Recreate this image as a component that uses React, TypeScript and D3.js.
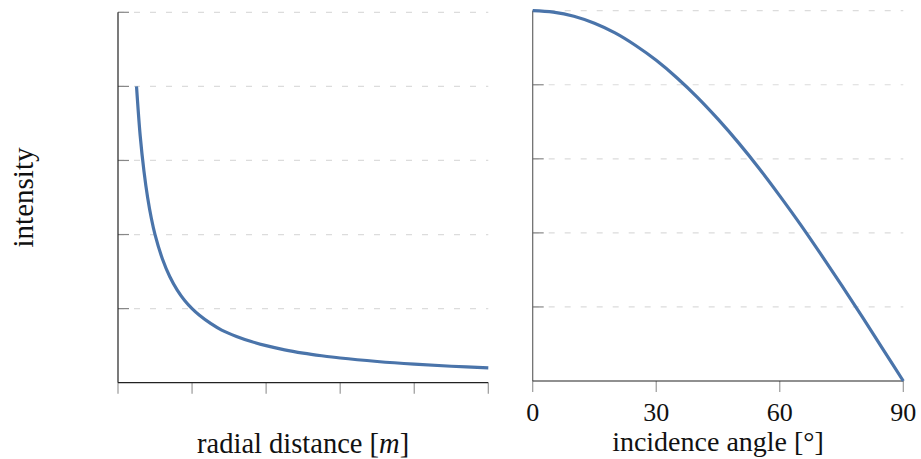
import React from "react";
import * as d3 from "d3";

// Left panel: intensity vs radial distance
const radialDistance = [0.25, 0.3, 0.35, 0.4, 0.45, 0.5, 0.6, 0.7, 0.8, 0.9, 1.0, 1.1, 1.25, 1.4, 1.6, 1.8, 2.0, 2.25, 2.5, 2.75, 3.0, 3.5, 4.0, 4.5, 5.0];
const radialIntensity = [4.0, 3.33, 2.86, 2.5, 2.22, 2.0, 1.67, 1.43, 1.25, 1.11, 1.0, 0.91, 0.8, 0.71, 0.625, 0.556, 0.5, 0.444, 0.4, 0.364, 0.333, 0.286, 0.25, 0.222, 0.2];
const radialTicks = [0, 1, 2, 3, 4, 5];
const radialGrid = [0, 1, 2, 3, 4, 5];

// Right panel: intensity vs incidence angle
const incidenceAngle = [0, 5, 10, 15, 20, 25, 30, 35, 40, 45, 50, 55, 60, 65, 70, 75, 80, 85, 90];
const angleIntensity = [1.0, 0.996, 0.985, 0.966, 0.94, 0.906, 0.866, 0.819, 0.766, 0.707, 0.643, 0.574, 0.5, 0.423, 0.342, 0.259, 0.174, 0.087, 0.0];
const angleTicks = [0, 30, 60, 90];
const angleGrid = [0, 0.2, 0.4, 0.6, 0.8, 1.0];

const LINE = "#4a74aa";
const FONT = "'Liberation Serif', 'DejaVu Serif', serif";

export default function App() {
  // left scales
  const xL = d3.scaleLinear().domain([0, 5]).range([118, 488.3]);
  const yL = d3.scaleLinear().domain([0, 5]).range([382.7, 12.3]);
  // right scales
  const xR = d3.scaleLinear().domain([0, 90]).range([532.7, 903.3]);
  const yR = d3.scaleLinear().domain([0, 1]).range([381, 10.7]);

  const lineL = d3
    .line<number>()
    .x((_, i) => xL(radialDistance[i]))
    .y((d) => yL(d))
    .curve(d3.curveCatmullRom.alpha(0.5));
  const lineR = d3
    .line<number>()
    .x((_, i) => xR(incidenceAngle[i]))
    .y((d) => yR(d))
    .curve(d3.curveMonotoneX);

  return (
    <svg
      width={921}
      height={459}
      style={{ position: "absolute", left: 0, top: 0, background: "#fff" }}
      fontFamily={FONT}
    >
      {/* ---------- Left panel ---------- */}
      {radialGrid.slice(1).map((g) => (
        <line
          key={"gl" + g}
          x1={xL(0)}
          x2={xL(5)}
          y1={yL(g)}
          y2={yL(g)}
          stroke="#dcdcdc"
          strokeWidth={1.2}
          strokeDasharray="6 10"
        />
      ))}
      {radialGrid.slice(1).map((g) => (
        <line key={"tl" + g} x1={xL(0)} x2={xL(0) + 11} y1={yL(g)} y2={yL(g)} stroke="#888" strokeWidth={1.2} />
      ))}
      {radialTicks.map((t) => (
        <line key={"xl" + t} x1={xL(t)} x2={xL(t)} y1={yL(0)} y2={yL(0) + 11} stroke="#999" strokeWidth={1.2} />
      ))}
      <line x1={xL(0)} x2={xL(0)} y1={yL(5)} y2={yL(0)} stroke="#222" strokeWidth={1.2} />
      <line x1={xL(0)} x2={xL(5)} y1={yL(0)} y2={yL(0)} stroke="#222" strokeWidth={1.2} />
      <path d={lineL(radialIntensity) || ""} fill="none" stroke={LINE} strokeWidth={3.2} />
      <text x={(xL(0) + xL(5)) / 2} y={452.5} fontSize={28.5} textAnchor="middle" fill="#111">
        radial distance [<tspan fontStyle="italic">m</tspan>]
      </text>
      <text
        transform={`translate(33,${(yL(0) + yL(5)) / 2}) rotate(-90)`}
        fontSize={29}
        textAnchor="middle"
        fill="#111"
      >
        intensity
      </text>

      {/* ---------- Right panel ---------- */}
      {angleGrid.slice(1).map((g) => (
        <line
          key={"gr" + g}
          x1={xR(0)}
          x2={xR(90)}
          y1={yR(g)}
          y2={yR(g)}
          stroke="#dcdcdc"
          strokeWidth={1.2}
          strokeDasharray="6 10"
        />
      ))}
      {angleGrid.slice(1).map((g) => (
        <line key={"tr" + g} x1={xR(0)} x2={xR(0) + 11} y1={yR(g)} y2={yR(g)} stroke="#888" strokeWidth={1.2} />
      ))}
      {angleTicks.map((t) => (
        <g key={"xr" + t}>
          <line x1={xR(t)} x2={xR(t)} y1={yR(0)} y2={yR(0) + 11} stroke="#999" strokeWidth={1.2} />
          <text x={xR(t)} y={420.5} fontSize={26} textAnchor="middle" fill="#111">
            {t}
          </text>
        </g>
      ))}
      <line x1={xR(0)} x2={xR(0)} y1={yR(1)} y2={yR(0)} stroke="#666" strokeWidth={1.2} />
      <line x1={xR(0)} x2={xR(90)} y1={yR(0)} y2={yR(0)} stroke="#222" strokeWidth={1.2} />
      <path d={lineR(angleIntensity) || ""} fill="none" stroke={LINE} strokeWidth={3.2} />
      <text x={(xR(0) + xR(90)) / 2} y={451} fontSize={28} textAnchor="middle" fill="#111">
        incidence angle [°]
      </text>
    </svg>
  );
}
